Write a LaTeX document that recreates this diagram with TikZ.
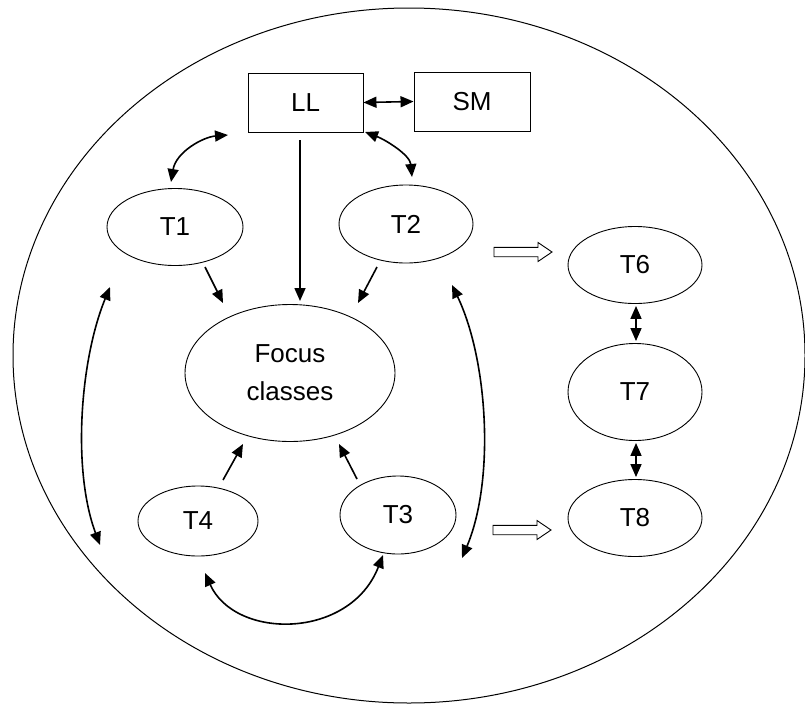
\documentclass[tikz,border=0pt]{standalone}
\usepackage{fontspec}
\setmainfont{Liberation Sans}
\usetikzlibrary{arrows.meta,calc,shapes.geometric}
\begin{document}
\begin{tikzpicture}[x=1pt,y=-1pt,
  lbl/.style={font=\fontsize{26}{38}\selectfont, inner sep=0pt},
  ell/.style={lbl, draw, line width=0.9pt, ellipse},
  boxn/.style={lbl, draw, line width=0.9pt, rectangle, minimum width=115pt, minimum height=59pt},
  arr/.style={line width=1.6pt, -{Triangle[length=13pt,width=11pt]}},
  darr/.style={line width=1.6pt, {Triangle[length=13pt,width=11pt]}-{Triangle[length=13pt,width=11pt]}},
  hollow/.style={draw, line width=0.9pt, fill=white}
]
\useasboundingbox (0,0) rectangle (805,707);
\node[draw, line width=1pt, ellipse, minimum width=792pt, minimum height=695pt, inner sep=0pt] (outer) at (409,355.5) {};

\node[boxn] (LL) at (305.5,102.5) {LL};
\node[boxn, minimum width=116pt] (SM) at (472,101.5) {SM};

\node[ell, minimum width=136pt, minimum height=77pt] (T1) at (175,227) {T1};
\node[ell, minimum width=134pt, minimum height=78pt] (T2) at (406,224) {T2};
\node[ell, minimum width=210pt, minimum height=137pt, align=center] (F) at (290,373) {Focus\\classes};
\node[ell, minimum width=120pt, minimum height=70pt] (T4) at (198,521) {T4};
\node[ell, minimum width=116pt, minimum height=78pt] (T3) at (398,515) {T3};
\node[ell, minimum width=134pt, minimum height=77pt] (T6) at (635,265) {T6};
\node[ell, minimum width=134pt, minimum height=97pt] (T7) at (635,392) {T7};
\node[ell, minimum width=134pt, minimum height=77pt] (T8) at (635,518) {T8};

% straight arrows into Focus classes
\draw[arr] ($(LL)+(-5.5,37.5)$) -- ($(F)+(10,-72)$);
\draw[arr] ($(T1)+(30,40)$) -- ($(F)+(-67,-70)$);
\draw[arr] ($(T2)+(-29,43)$) -- ($(F)+(68,-70)$);
\draw[arr] ($(T4)+(25,-41)$) -- ($(F)+(-47,71)$);
\draw[arr] ($(T3)+(-41,-36)$) -- ($(F)+(49,71)$);

% double arrows
\draw[darr] (LL.east) -- (SM.west);
\draw[darr] ($(LL)+(-77.5,32.5)$) .. controls (203,137) and (176,152) .. ($(T1)+(-4,-45)$);
\draw[darr] ($(LL)+(59.5,29.5)$) .. controls (386,140) and (410,155) .. ($(T2)+(6,-47)$);
\draw[darr] ([xshift=1pt,yshift=-2pt]T6.south) -- ([xshift=1pt,yshift=2pt]T7.north);
\draw[darr] ([xshift=1pt,yshift=-2pt]T7.south) -- ([xshift=1pt,yshift=2pt]T8.north);
\draw[darr] ($(T1)+(-65,60)$) .. controls (80,360) and (72,470) .. ($(T4)+(-98,24)$);
\draw[darr] ($(T2)+(46,61)$) .. controls (488,360) and (495,480) .. ($(T3)+(64,43)$);
\draw[darr] ($(T4)+(7,52)$) .. controls (235,640) and (350,640) .. ($(T3)+(-15,40)$);

% hollow block arrows
\foreach \yy/\xx in {252/494, 530/493} {
  \draw[hollow] (\xx,\yy-4.7) -- (\xx+44,\yy-4.7) -- (\xx+44,\yy-9.5) -- (\xx+58,\yy)
    -- (\xx+44,\yy+9.5) -- (\xx+44,\yy+4.7) -- (\xx,\yy+4.7) -- cycle;
}
\end{tikzpicture}
\end{document}
